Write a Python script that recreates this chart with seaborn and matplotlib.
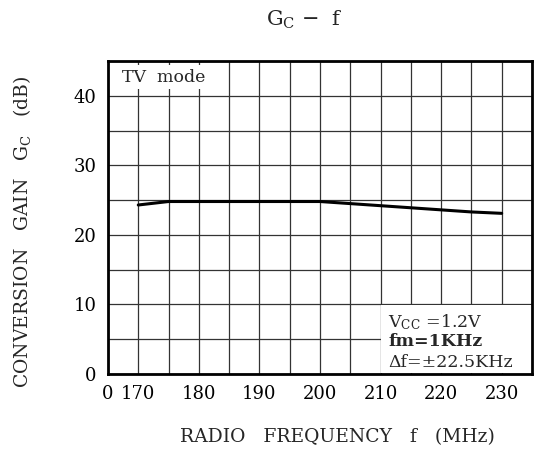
#!/usr/bin/env python3
"""Conversion gain Gc versus radio frequency f, TV mode."""

import matplotlib as mpl
import matplotlib.pyplot as plt
import pandas as pd
import seaborn as sns
from matplotlib.patches import Rectangle

mpl.use('Agg')

# Data
FREQ = [170, 175, 180, 185, 190, 195, 200, 205, 210, 215, 220, 225, 230]
GAIN = [24.3, 24.8, 24.8, 24.8, 24.8, 24.8, 24.8, 24.5, 24.2, 23.9, 23.6, 23.3, 23.1]
X_TICKS = [165, 170, 180, 190, 200, 210, 220, 230]
X_LABELS = ["0", "170", "180", "190", "200", "210", "220", "230"]
Y_TICKS = [0, 10, 20, 30, 40]

sns.set_style("ticks")
plt.rcParams['font.family'] = ['DejaVu Serif']
plt.rcParams['mathtext.fontset'] = 'dejavuserif'


def main():
    df = pd.DataFrame({"f": FREQ, "gc": GAIN})

    fig = plt.figure(figsize=(5.38, 4.54), dpi=100)
    ax = fig.add_axes([0.2007, 0.1762, 0.7881, 0.6894])

    # grid every 5 units
    for x in range(165, 236, 5):
        ax.axvline(x, color="#333333", lw=0.9, zorder=1)
    for y in range(0, 46, 5):
        ax.axhline(y, color="#333333", lw=0.9, zorder=1)

    # white note boxes hiding the grid
    ax.add_patch(Rectangle((210.15, 0.1), 24.8, 9.85, facecolor="white",
                           edgecolor="none", zorder=2))
    ax.add_patch(Rectangle((165.2, 41.0), 17.0, 3.4, facecolor="white",
                           edgecolor="none", zorder=2))

    sns.lineplot(x="f", y="gc", data=df, ax=ax, color="black", lw=2.2,
                 zorder=3)

    ax.set_xlim(165, 235)
    ax.set_ylim(0, 45)
    ax.set_xticks(X_TICKS)
    ax.set_xticklabels(X_LABELS)
    ax.set_yticks(Y_TICKS)
    ax.tick_params(length=0, labelsize=13, pad=8, colors="black")
    ax.set(xlabel="", ylabel="")
    for s in ax.spines.values():
        s.set_visible(True)
        s.set_linewidth(2)
        s.set_color("black")
        s.set_zorder(4)

    ax.text(167.3, 42.6, "TV  mode", fontsize=12.5, va="center", zorder=4)
    ax.text(211.3, 7.5, r"V$_{\rm CC}$ =1.2V", fontsize=12.5, va="center",
            zorder=4)
    ax.text(211.3, 4.7, "fm=1KHz", fontsize=12.5, va="center",
            fontweight="bold", zorder=4)
    ax.text(211.3, 1.7, "Δf=±22.5KHz", fontsize=12.5, va="center", zorder=4)

    fig.text(304 / 538, 1 - 20 / 454, r"G$_{\rm C}$ −  f", fontsize=15,
             ha="center", va="center")
    fig.text(337 / 538, 1 - 437 / 454, "RADIO   FREQUENCY   f   (MHz)",
             fontsize=13.5, ha="center", va="center")
    fig.text(22 / 538, 1 - 232 / 454,
             r"CONVERSION   GAIN   G$_{\rm C}$   (dB)",
             fontsize=13.5, ha="center", va="center", rotation=90)

    fig.savefig("out.png", dpi=100)
    plt.close(fig)


if __name__ == '__main__':
    main()
